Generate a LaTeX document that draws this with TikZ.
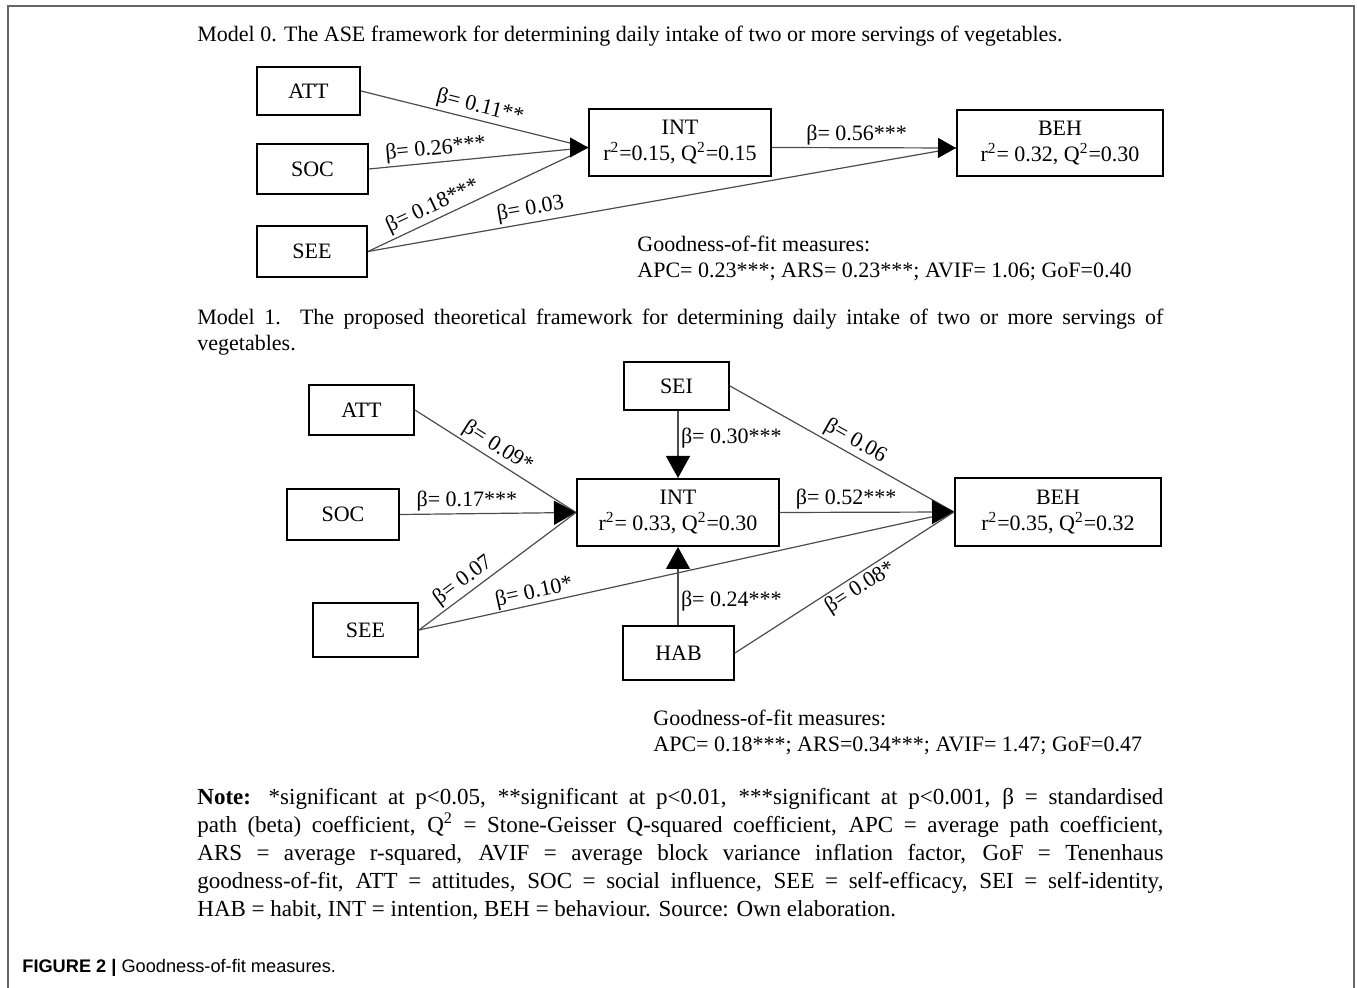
\documentclass[tikz,border=0pt]{standalone}
\usepackage{fontspec}
\setmainfont{Liberation Serif}
\newfontfamily\capfont{Liberation Sans}
\usetikzlibrary{arrows.meta,positioning}

\tikzset{
  var/.style={draw, line width=1pt, inner sep=0pt, align=center, font=\fontsize{11}{13}\selectfont},
  link/.style={draw=black!70, line width=0.6pt},
  beta/.style={font=\fontsize{11}{12}\selectfont, inner sep=1.2pt},
  tipa/.style={-{Triangle[length=9pt,width=10pt,color=black]}},
  tipb/.style={-{Triangle[length=11pt,width=12pt,color=black]}},
  txt/.style={font=\fontsize{11}{13}\selectfont, inner sep=0pt}
}

\begin{document}
\begin{tikzpicture}[x=0.5pt, y=-0.5pt]
        \useasboundingbox (0,0) rectangle (1357,988);
        \draw[black!60, line width=0.8pt] (8,988) -- (8,6) -- (1354,6) -- (1354,988);

        % Model 0
        \node[txt, anchor=base west] (m0) at (197,42) {Model 0. The ASE framework for determining daily intake of two or more servings of vegetables.};
        \node[var, minimum width=51.5pt, minimum height=24pt] (att0) at (308.5,91) {ATT};
        \node[var, minimum width=55.5pt, minimum height=25pt] (soc0) at (312.5,169) {SOC};
        \node[var, minimum width=55pt, minimum height=25.5pt] (see0) at (312,251.5) {SEE};
        \node[var, minimum width=91pt, minimum height=33.5pt] (int0) at (680,142.5) {INT\\ r\textsuperscript{2}=0.15, Q\textsuperscript{2}=0.15};
        \node[var, minimum width=103pt, minimum height=33pt] (beh0) at (1060,143) {BEH\\ r\textsuperscript{2}= 0.32, Q\textsuperscript{2}=0.30};
        \coordinate (in0) at ([yshift=-2.5pt]int0.west);
        \coordinate (bh0) at ([yshift=-2.5pt]beh0.west);

        \draw[link] (att0.east) -- (in0) node[beta, sloped, above, pos=0.51] {β= 0.11**};
        \draw[link] (soc0.east) -- (in0) node[beta, sloped, above, pos=0.31] {β= 0.26***};
        \draw[link] (see0.east) -- (in0) node[beta, sloped, above, pos=0.32] {β= 0.18***};
        \draw[link] (see0.east) -- (bh0) node[beta, sloped, above, pos=0.28] {β= 0.03};
        \draw[tipa] ([xshift=-1pt]in0) -- (in0);
        \draw[link, tipa] (int0.east |- in0) -- (bh0) node[beta, above, pos=0.46] {β= 0.56***};
        \node[txt, anchor=north west, align=left] (gof0) at (637,236) {Goodness-of-fit measures:\\ APC= 0.23***; ARS= 0.23***; AVIF= 1.06; GoF=0.40};

        % Model 1
        \node[txt, anchor=north west, text width=483pt, align=justify] (m1) at (197,309) {Model 1. The proposed theoretical framework for determining daily intake of two or more servings of\linebreak vegetables.};
        \node[var, minimum width=52.5pt, minimum height=25pt] (att1) at (361.5,410) {ATT};
        \node[var, minimum width=56pt, minimum height=25.5pt] (soc1) at (343,514.5) {SOC};
        \node[var, minimum width=52.5pt, minimum height=27pt] (see1) at (365.5,630) {SEE};
        \node[var, minimum width=52.5pt, minimum height=24pt] (sei1) at (676.5,386) {SEI};
        \node[var, minimum width=101pt, minimum height=33.5pt] (int1) at (678,512.5) {INT\\ r\textsuperscript{2}= 0.33, Q\textsuperscript{2}=0.30};
        \node[var, minimum width=55.5pt, minimum height=27pt] (hab1) at (678.5,653) {HAB};
        \node[var, minimum width=103pt, minimum height=34pt] (beh1) at (1058,512) {BEH\\ r\textsuperscript{2}=0.35, Q\textsuperscript{2}=0.32};

        \draw[link] (att1.east) -- (int1.west) node[beta, sloped, above, pos=0.47] {β= 0.09*};
        \draw[link, tipb] (soc1.east) -- (int1.west) node[beta, above, pos=0.38] {β= 0.17***};
        \draw[link] (see1.east) -- (int1.west) node[beta, sloped, above, pos=0.33] {β= 0.07};
        \draw[link] (see1.east) -- (beh1.west) node[beta, sloped, above, pos=0.22, inner sep=0.5pt] {β= 0.10*};
        \draw[link, tipb] (sei1.south -| int1) -- (int1.north) node[beta, right, pos=0.4] {β= 0.30***};
        \draw[link, tipb] (hab1.north -| int1) -- (int1.south) node[beta, right, pos=0.3] {β= 0.24***};
        \draw[link] (sei1.east) -- (beh1.west) node[beta, sloped, above, pos=0.53] {β= 0.06};
        \draw[link, tipb] (int1.east) -- (beh1.west) node[beta, above, pos=0.38] {β= 0.52***};
        \draw[link] (hab1.east) -- (beh1.west) node[beta, sloped, below, pos=0.54] {β= 0.08*};
        \node[txt, anchor=north west, align=left] (gof1) at (653,710) {Goodness-of-fit measures:\\ APC= 0.18***; ARS=0.34***; AVIF= 1.47; GoF=0.47};

        % Note and caption
        \node[anchor=north west, inner sep=0pt, text width=483pt, align=justify, font=\fontsize{11.5}{14}\selectfont] (note) at (197,788) {\textbf{Note:} *significant at p<0.05, **significant at p<0.01, ***significant at p<0.001, β = standardised\linebreak path (beta) coefficient, Q\textsuperscript{2} = Stone-Geisser Q-squared coefficient, APC = average path coefficient,\linebreak ARS = average r-squared, AVIF = average block variance inflation factor, GoF = Tenenhaus\linebreak goodness-of-fit, ATT = attitudes, SOC = social influence, SEE = self-efficacy, SEI = self-identity,\linebreak HAB = habit, INT = intention, BEH = behaviour. Source: Own elaboration.};
        \node[anchor=base west, inner sep=0pt, font=\capfont\fontsize{9.1}{10}\selectfont] (cap) at (22,973) {\textbf{FIGURE 2 |} Goodness-of-fit measures.};
    \end{tikzpicture}
\end{document}
